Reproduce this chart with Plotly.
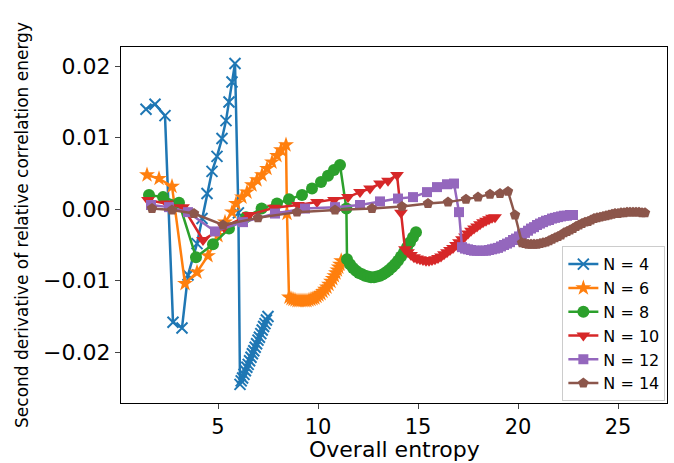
import plotly.graph_objects as go

# Overall entropy (x) and second derivative of relative correlation energy (y) per system size N

x_n4 = [1.40, 1.85, 2.35, 2.75, 3.20, 3.50, 3.95, 4.20, 4.45, 4.70, 4.95, 5.20, 5.40, 5.55, 5.70, 5.85, 6.02,
        6.10, 6.16, 6.23, 6.30, 6.37, 6.44, 6.51, 6.58, 6.65, 6.72, 6.79, 6.86, 6.93, 7.00, 7.07, 7.14, 7.21,
        7.28, 7.35, 7.42, 7.50]
y_n4 = [0.0140, 0.0147, 0.0131, -0.0158, -0.0166, -0.0092, -0.0048, -0.0013, 0.0022, 0.0053, 0.0074, 0.0099,
        0.0124, 0.0150, 0.0178, 0.0204, -0.0005,
        -0.0245, -0.0240, -0.0236, -0.0231, -0.0226, -0.0221, -0.0217, -0.0212, -0.0207, -0.0202, -0.0198,
        -0.0193, -0.0188, -0.0183, -0.0179, -0.0174, -0.0169, -0.0164, -0.0160, -0.0155, -0.0150]

x_n6 = [1.45, 2.05, 2.70, 3.35, 3.95, 4.50, 5.00, 5.35, 5.70, 5.90, 6.20, 6.45, 6.70, 6.95, 7.20, 7.45, 7.70,
        7.95, 8.15, 8.40, 8.45,
        8.55, 8.65, 8.75, 8.85, 8.95, 9.05, 9.15, 9.25, 9.35, 9.45, 9.55, 9.65, 9.75, 9.85, 9.95, 10.05, 10.15,
        10.25, 10.35, 10.45, 10.55, 10.65, 10.74, 10.82, 10.90, 10.97, 11.04, 11.10, 11.16]
y_n6 = [0.0048, 0.0043, 0.0032, -0.0104, -0.0088, -0.0065, -0.0037, -0.0018, -0.0004, 0.0008, 0.0017, 0.0024,
        0.0034, 0.0041, 0.0048, 0.0057, 0.0066, 0.0075, 0.0083, 0.0090, -0.0006,
        -0.0123, -0.0125, -0.0126, -0.0127, -0.0128, -0.0128, -0.0128, -0.0128, -0.0128, -0.0128, -0.0127,
        -0.0126, -0.0125, -0.0124, -0.0122, -0.0120, -0.0118, -0.0115, -0.0112, -0.0109, -0.0105, -0.0101,
        -0.0097, -0.0093, -0.0089, -0.0085, -0.0081, -0.0077, -0.0072]

x_n8 = [1.55, 2.25, 3.05, 3.90, 4.75, 5.55, 6.40, 7.18, 7.95, 8.55, 9.20, 9.70, 10.15, 10.50, 10.80, 11.10, 11.42,
        11.45, 11.60, 11.75, 11.90, 12.05, 12.20, 12.35, 12.50, 12.65, 12.80, 12.95, 13.10, 13.25, 13.40, 13.55,
        13.70, 13.85, 14.00, 14.15, 14.30, 14.45, 14.60, 14.75, 14.90]
y_n8 = [0.0020, 0.0017, 0.0009, -0.0067, -0.0049, -0.0027, -0.0011, 0.0001, 0.0008, 0.0014, 0.0020, 0.0029,
        0.0038, 0.0047, 0.0055, 0.0062, 0.0001,
        -0.0070, -0.0077, -0.0082, -0.0086, -0.0089, -0.0091, -0.0093, -0.0094, -0.0095, -0.0095, -0.0094,
        -0.0093, -0.0091, -0.0088, -0.0085, -0.0081, -0.0077, -0.0072, -0.0066, -0.0060, -0.0053, -0.0046,
        -0.0039, -0.0032]

x_n10 = [1.50, 2.45, 3.25, 4.25, 5.30, 6.55, 7.80, 9.00, 9.95, 10.80, 11.50, 12.10, 12.60, 13.10, 13.50, 13.95,
         14.15,
         14.35, 14.50, 14.65, 14.80, 14.95, 15.10, 15.25, 15.40, 15.55, 15.70, 15.85, 16.00, 16.15, 16.30, 16.45,
         16.60, 16.75, 16.90, 17.05, 17.20, 17.35, 17.50, 17.65, 17.80, 17.95, 18.10, 18.25, 18.40, 18.55, 18.70,
         18.85]
y_n10 = [0.0013, 0.0008, 0.0003, -0.0043, -0.0025, -0.0008, 0.0002, 0.0006, 0.0010, 0.0013, 0.0017, 0.0024,
         0.0029, 0.0036, 0.0040, 0.0048, -0.0005,
         -0.0056, -0.0060, -0.0064, -0.0067, -0.0069, -0.0070, -0.0071, -0.0072, -0.0072, -0.0071, -0.0070,
         -0.0068, -0.0066, -0.0063, -0.0060, -0.0057, -0.0054, -0.0050, -0.0046, -0.0042, -0.0038, -0.0034,
         -0.0030, -0.0027, -0.0024, -0.0021, -0.0018, -0.0016, -0.0014, -0.0012, -0.0011]

x_n12 = [1.65, 2.55, 3.50, 4.85, 6.25, 7.85, 9.35, 10.85, 12.10, 13.10, 14.00, 14.75, 15.45, 15.95, 16.45, 16.80,
         17.05,
         17.20, 17.35, 17.50, 17.65, 17.80, 17.95, 18.10, 18.25, 18.40, 18.55, 18.70, 18.85, 19.00, 19.15, 19.30,
         19.45, 19.60, 19.75, 19.90, 20.05, 20.20, 20.35, 20.50, 20.65, 20.80, 20.95, 21.10, 21.25, 21.40, 21.55,
         21.70, 21.85, 22.00, 22.15, 22.30, 22.45, 22.60, 22.75]
y_n12 = [0.0006, 0.0003, -0.0004, -0.0031, -0.0018, -0.0006, 0.0001, 0.0003, 0.0006, 0.0011, 0.0015, 0.0017,
         0.0024, 0.0031, 0.0035, 0.0036, -0.0004,
         -0.0053, -0.0055, -0.0056, -0.0057, -0.0058, -0.0058, -0.0058, -0.0058, -0.0058, -0.0057, -0.0056,
         -0.0055, -0.0054, -0.0052, -0.0050, -0.0048, -0.0046, -0.0043, -0.0041, -0.0038, -0.0035, -0.0033,
         -0.0030, -0.0027, -0.0025, -0.0022, -0.0020, -0.0018, -0.0016, -0.0015, -0.0013, -0.0012, -0.0011,
         -0.0010, -0.0009, -0.0009, -0.0008, -0.0008]

x_n14 = [1.70, 2.70, 3.80, 5.25, 7.00, 8.95, 10.85, 12.70, 14.20, 15.50, 16.50, 17.40, 18.00, 18.60, 19.10, 19.50,
         19.85,
         20.20, 20.35, 20.50, 20.65, 20.80, 20.95, 21.10, 21.25, 21.40, 21.55, 21.70, 21.85, 22.00, 22.15, 22.30,
         22.45, 22.60, 22.75, 22.90, 23.05, 23.20, 23.35, 23.50, 23.65, 23.80, 23.95, 24.10, 24.25, 24.40, 24.55,
         24.70, 24.85, 25.00, 25.15, 25.30, 25.45, 25.60, 25.75, 25.90, 26.05, 26.20, 26.35]
y_n14 = [0.0001, -0.0001, -0.0006, -0.0022, -0.0012, -0.0004, -0.0001, 0.0001, 0.0004, 0.0008, 0.0010, 0.0014,
         0.0017, 0.0021, 0.0022, 0.0025, -0.0008,
         -0.0047, -0.0048, -0.0049, -0.0049, -0.0049, -0.0049, -0.0048, -0.0047, -0.0046, -0.0044, -0.0042,
         -0.0040, -0.0038, -0.0036, -0.0033, -0.0031, -0.0029, -0.0027, -0.0024, -0.0022, -0.0020, -0.0018,
         -0.0017, -0.0015, -0.0013, -0.0012, -0.0011, -0.0010, -0.0009, -0.0008, -0.0007, -0.0006, -0.0006,
         -0.0005, -0.0005, -0.0004, -0.0004, -0.0004, -0.0004, -0.0004, -0.0005, -0.0005]

series_labels = ["N = 4", "N = 6", "N = 8", "N = 10", "N = 12", "N = 14"]
series_x = [x_n4, x_n6, x_n8, x_n10, x_n12, x_n14]
series_y = [y_n4, y_n6, y_n8, y_n10, y_n12, y_n14]

colors = ["#1f77b4", "#ff7f0e", "#2ca02c", "#d62728", "#9467bd", "#8c564b"]
symbols = ["x-thin", "star", "circle", "triangle-down", "square", "pentagon"]
sizes = [11, 12, 12, 12, 10, 11]

fig = go.Figure()
for lab, xs, ys, c, sym, sz in zip(series_labels, series_x, series_y, colors, symbols, sizes):
    marker = dict(symbol=sym, size=sz, color=c)
    if sym == "x-thin":
        marker["line"] = dict(color=c, width=2)
    else:
        marker["line"] = dict(width=0)
    fig.add_trace(go.Scatter(x=xs, y=ys, mode="lines+markers", name=lab,
                             line=dict(color=c, width=2.5), marker=marker))

font_family = "DejaVu Sans"
fig.update_layout(
    width=674, height=463,
    margin=dict(l=121, r=7, t=47, b=60),
    paper_bgcolor="white", plot_bgcolor="white",
    font=dict(family=font_family, color="black"),
    showlegend=True,
    legend=dict(x=0.997, y=0.005, xanchor="right", yanchor="bottom",
                bgcolor="rgba(255,255,255,0.85)", bordercolor="#cccccc", borderwidth=1,
                font=dict(size=16, family=font_family), tracegroupgap=0),
)
# x-axis title drawn as a paper annotation so it sits just under the tick labels
fig.add_annotation(text="Overall entropy", xref="paper", yref="paper", x=0.5, y=-0.132,
                   xanchor="center", yanchor="middle", showarrow=False,
                   font=dict(size=22, family=font_family, color="black"))
fig.update_xaxes(range=[0.15, 27.45], tickvals=[5, 10, 15, 20, 25], automargin=False,
                 showline=True, mirror=True, linecolor="black", linewidth=1.3,
                 ticks="outside", ticklen=5, tickwidth=1.2, showgrid=False, zeroline=False,
                 tickfont=dict(size=21))
fig.update_yaxes(range=[-0.0271, 0.0227], tickvals=[-0.02, -0.01, 0.0, 0.01, 0.02], tickformat=".2f",
                 automargin=False,
                 showline=True, mirror=True, linecolor="black", linewidth=1.3,
                 ticks="outside", ticklen=5, tickwidth=1.2, showgrid=False, zeroline=False,
                 tickfont=dict(size=22),
                 title=dict(text="Second derivative of relative correlation energy", font=dict(size=17),
                            standoff=10))

fig.write_html("out.html")
